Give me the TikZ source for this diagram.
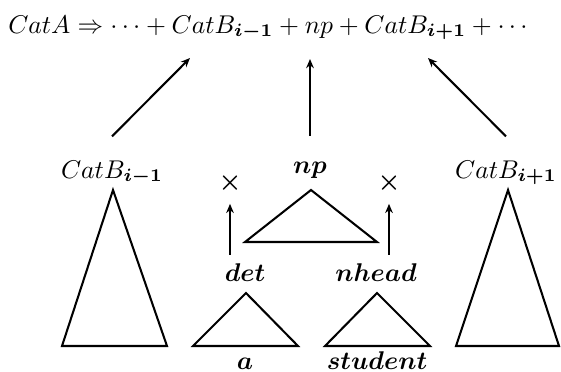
\documentclass[tikz,border=0pt]{standalone}
\usepackage{amsmath}
\usetikzlibrary{positioning, arrows.meta}

\begin{document}
\begin{tikzpicture}[x=0.39pt, y=-0.39pt,
  lbl/.style={inner sep=0pt,anchor=base},
  xsign/.style={inner sep=0pt,anchor=center},
  tri/.style={thick,line join=miter},
  arr/.style={-{Stealth[length=3.6pt,width=3pt]},thick}]
  \useasboundingbox (0,0) rectangle (561,371);
  \node[lbl] (rule) at (270,33) {$CatA \Rightarrow \cdots + CatB_{\boldsymbol{i-1}} + np + CatB_{\boldsymbol{i+1}} + \cdots$};
  \coordinate (tipL) at (190,58);
  \coordinate (tipM) at (310,59);
  \coordinate (tipR) at (428,58);
  \node[lbl] (catL) at (112,178) {$CatB_{\boldsymbol{i-1}}$};
  \node[lbl] (np) at (310,173) {$\boldsymbol{np}$};
  \node[lbl] (catR) at (506,178) {$CatB_{\boldsymbol{i+1}}$};
  \node[xsign] (xL) at (230,183) {$\boldsymbol{\times}$};
  \node[xsign] (xR) at (389,183) {$\boldsymbol{\times}$};
  \node[lbl] (det) at (245,281) {$\boldsymbol{det}$};
  \node[lbl] (nhead) at (376,281) {$\boldsymbol{nhead}$};
  \node[lbl] (wa) at (245,369) {$\boldsymbol{a}$};
  \node[lbl] (wst) at (377,369) {$\boldsymbol{student}$};
  \draw[tri] (113,190) -- (62,346) -- (167,346) -- cycle;
  \draw[tri] (311,190) -- (245,242) -- (377,242) -- cycle;
  \draw[tri] (246,293) -- (193,346) -- (298,346) -- cycle;
  \draw[tri] (377,293) -- (325,346) -- (430,346) -- cycle;
  \draw[tri] (508,190) -- (456,346) -- (559,346) -- cycle;
  \draw[arr] ([yshift=9.2pt]catL.north) -- (tipL);
  \draw[arr] ([yshift=9.8pt]np.north) -- (tipM);
  \draw[arr] ([yshift=9.2pt]catR.north) -- (tipR);
  \draw[arr, shorten <=3.1pt, shorten >=4.1pt] (xL |- det.north) -- (xL.south);
  \draw[arr, shorten <=3.1pt, shorten >=4.1pt] (xR |- nhead.north) -- (xR.south);
\end{tikzpicture}
\end{document}
